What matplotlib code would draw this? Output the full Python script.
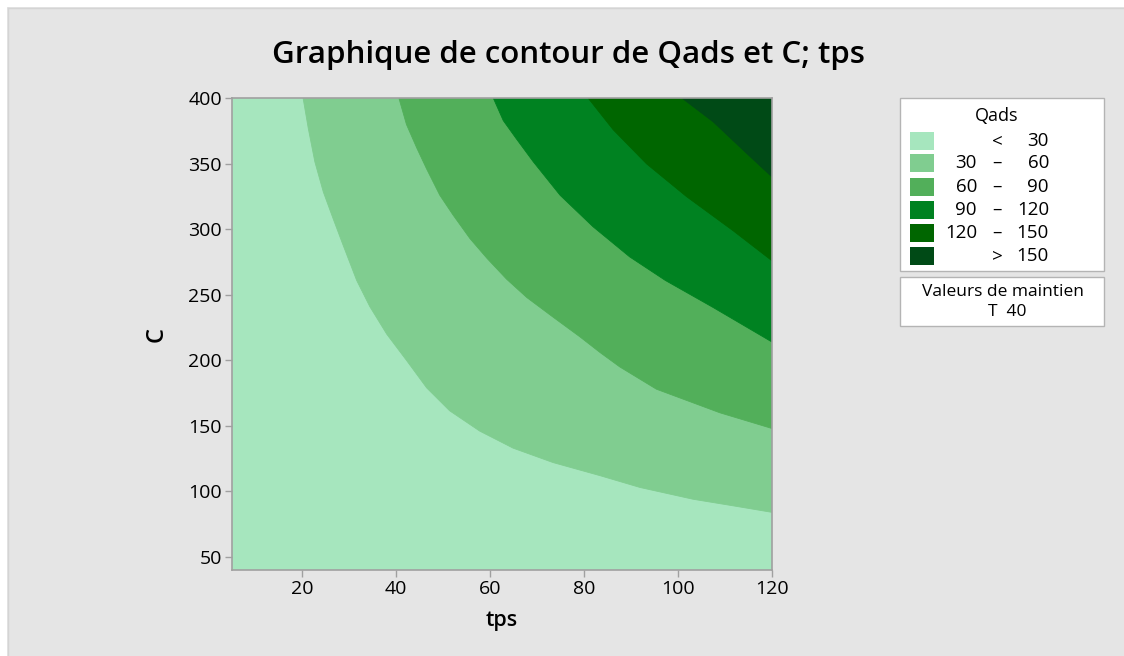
import numpy as np
import matplotlib
matplotlib.use("Agg")
import matplotlib.pyplot as plt
from matplotlib.patches import Rectangle
from matplotlib.lines import Line2D

plt.rcParams['font.family'] = ['Open Sans', 'DejaVu Sans']

# ---- data: contour boundaries (tps, C) ----
b30_tps = [20.2, 21.3, 22.7, 24.5, 26.6, 28.7, 31.6, 34.4, 38.0, 42.2, 46.5, 51.4, 57.8, 64.9, 73.4, 83.4, 91.9, 103.2, 111.7, 120]
b30_C = [400, 377, 351.5, 328.5, 308, 288, 261, 241, 220, 200, 179, 161.5, 146, 133, 122, 112, 103, 94, 89, 84]

b60_tps = [40.6, 42.2, 44.4, 46.5, 49.3, 52.1, 55.7, 59.3, 63.5, 67.8, 73.4, 79.1, 83.4, 87.6, 95.4, 108.9, 120]
b60_C = [400, 380, 362, 346, 326, 311, 293, 278, 262, 248, 233, 218, 206, 195, 178, 160, 148]

b90_tps = [60.7, 62.8, 65.6, 69.2, 74.9, 81.9, 89.7, 97.3, 107.4, 120]
b90_C = [400, 383, 369, 351.5, 326, 302, 279, 261, 240.5, 214]

b120_tps = [80.9, 86.2, 93.3, 101.8, 111.7, 120]
b120_C = [400, 376, 350, 325, 299, 276]

b150_tps = [100.9, 107.5, 114.6, 120]
b150_C = [400, 382, 358, 340]

levels_left = ["", "30", "60", "90", "120", ""]
levels_mid = ["<", "–", "–", "–", "–", ">"]
levels_right = ["30", "60", "90", "120", "150", "150"]
colors = ["#A6E6BE", "#80CD90", "#52AF5A", "#008221", "#006600", "#004A16"]

x_ticks = [20, 40, 60, 80, 100, 120]
y_ticks = [50, 100, 150, 200, 250, 300, 350, 400]
xlim = (5, 120)
ylim = (40, 400)

W, H = 1124, 656
fig = plt.figure(figsize=(W / 100, H / 100), dpi=100)
fig.patch.set_facecolor("#E5E5E5")

# white strips on top / left edge
fig.patches.append(Rectangle((0, 0), 7 / W, 1, transform=fig.transFigure, facecolor="white", edgecolor="none", zorder=0))
fig.patches.append(Rectangle((0, 1 - 7 / H), 1, 7 / H, transform=fig.transFigure, facecolor="white", edgecolor="none", zorder=0))
fig.lines.append(Line2D([7.5 / W, 7.5 / W], [0, 1 - 7.5 / H], transform=fig.transFigure, color="#D4D4D4", lw=1))
fig.lines.append(Line2D([7.5 / W, 1], [1 - 7.5 / H, 1 - 7.5 / H], transform=fig.transFigure, color="#D4D4D4", lw=1))

ax = fig.add_axes([231.7 / W, 1 - 570 / H, (772 - 231.7) / W, (570 - 98.3) / H])
ax.set_facecolor(colors[0])
ax.set_xlim(*xlim)
ax.set_ylim(*ylim)

bounds = [(b30_tps, b30_C), (b60_tps, b60_C), (b90_tps, b90_C), (b120_tps, b120_C), (b150_tps, b150_C)]
for i, (bt, bc) in enumerate(bounds):
    xs = list(bt) + [xlim[1], xlim[1]]
    ys = list(bc) + [ylim[1], ylim[1]]
    ax.fill(xs, ys, color=colors[i + 1], lw=0.6, ec=colors[i + 1], zorder=1 + i)

ax.set_xticks(x_ticks)
ax.set_yticks(y_ticks)
ax.tick_params(axis="both", labelsize=14, color="#A0A0A0", length=5, width=1, pad=2)
for lab in ax.get_xticklabels() + ax.get_yticklabels():
    lab.set_fontweight("medium")
for s in ax.spines.values():
    s.set_color("#A0A0A0")
    s.set_linewidth(1.2)
    s.set_zorder(10)

ax.set_xlabel("tps", fontsize=15.5, fontweight="semibold", labelpad=9)
ax.set_ylabel("C", fontsize=17, fontweight="semibold", labelpad=14)

fig.text(569 / W, 1 - 55 / H, "Graphique de contour de Qads et C; tps", ha="center", va="center",
         fontsize=22.5, fontweight="semibold")

# ---- legend box ----
def fx(px):
    return px / W

def fy(py):
    return 1 - py / H

fs = 13.5
fig.patches.append(Rectangle((fx(900), fy(271)), (1104 - 900) / W, (271 - 98) / H, transform=fig.transFigure,
                             facecolor="white", edgecolor="#B4B4B4", lw=1, zorder=2))
fig.text(fx(997), fy(116), "Qads", ha="center", va="center", fontsize=fs - 0.5)
row_y = [140.7, 162.7, 186.7, 210, 232.7, 256]
for i, yy in enumerate(row_y):
    fig.patches.append(Rectangle((fx(910), fy(yy + 9)), 24 / W, 18 / H, transform=fig.transFigure,
                                 facecolor=colors[i], edgecolor="none", zorder=3))
    if levels_left[i]:
        fig.text(fx(977), fy(yy), levels_left[i], ha="right", va="center", fontsize=fs)
    fig.text(fx(997), fy(yy), levels_mid[i], ha="center", va="center", fontsize=fs)
    fig.text(fx(1049), fy(yy), levels_right[i], ha="right", va="center", fontsize=fs)

fig.patches.append(Rectangle((fx(900), fy(326)), (1104 - 900) / W, (326 - 277) / H, transform=fig.transFigure,
                             facecolor="white", edgecolor="#B4B4B4", lw=1, zorder=2))
fig.text(fx(1003), fy(292), "Valeurs de maintien", ha="center", va="center", fontsize=12.5)
fig.text(fx(1007), fy(312), "T  40", ha="center", va="center", fontsize=12.5)

fig.savefig("out.png", dpi=100, facecolor=fig.get_facecolor())
